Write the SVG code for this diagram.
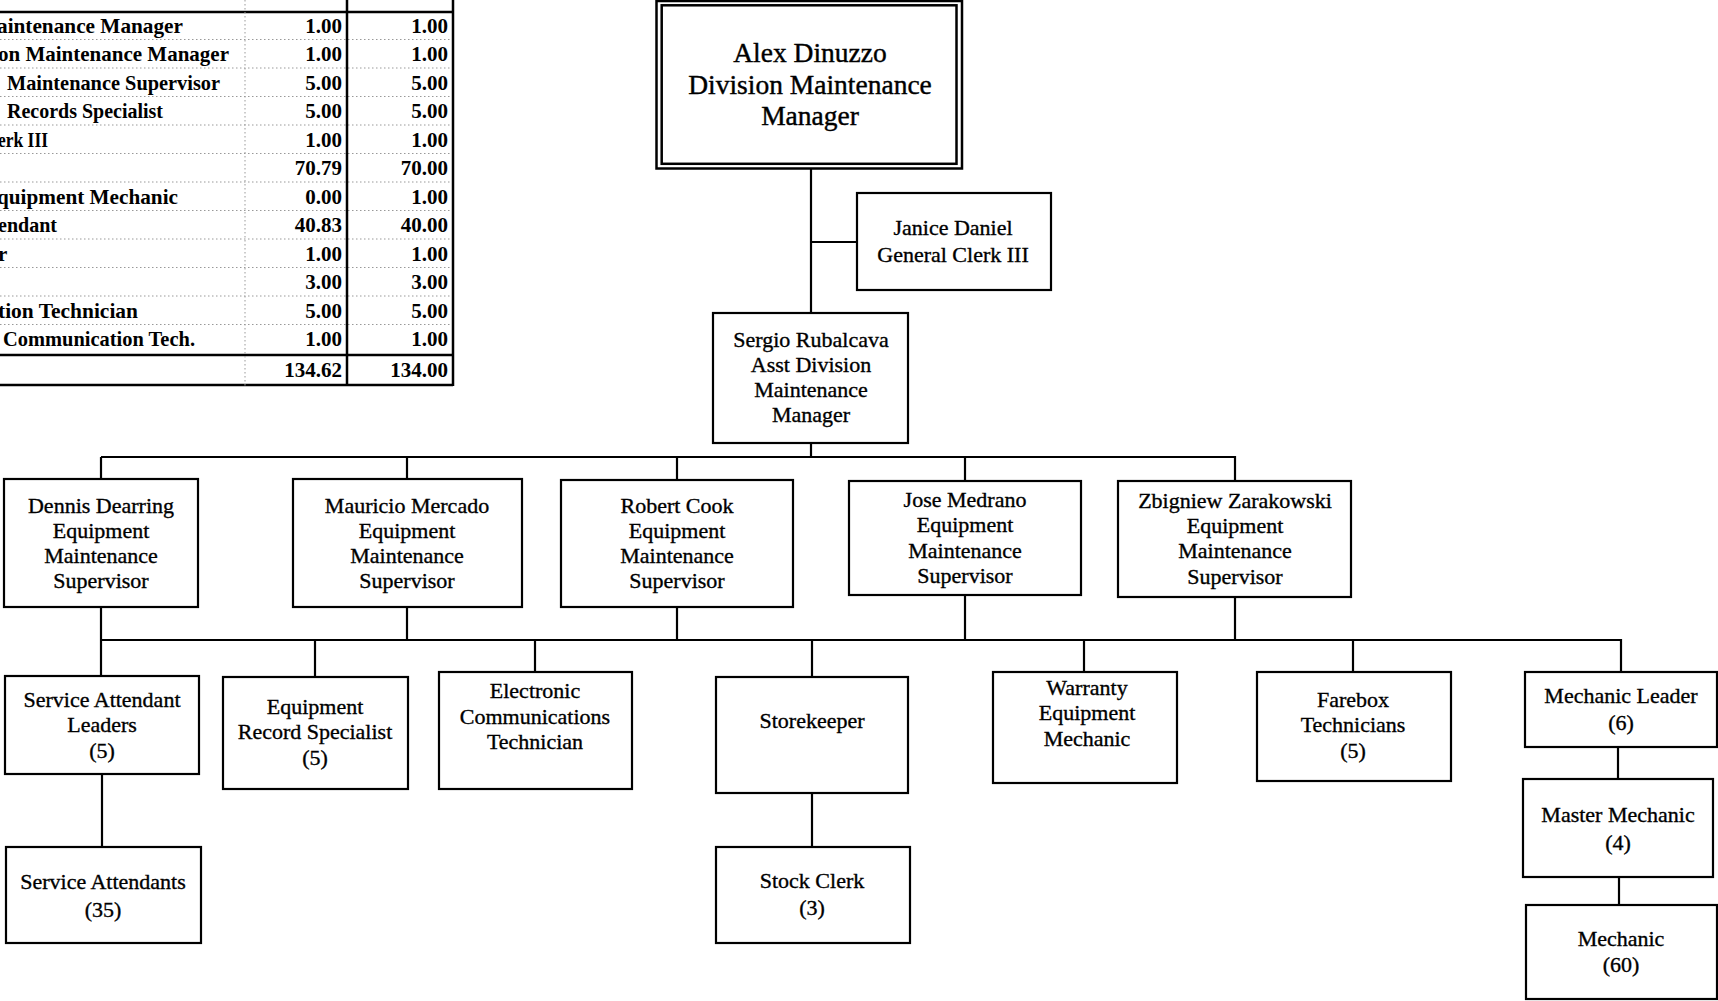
<svg xmlns="http://www.w3.org/2000/svg" width="1718" height="1001" viewBox="0 0 1718 1001">
<style>
  .bg { fill: #ffffff; }
  .box { fill: #ffffff; stroke: #000; stroke-width: 2.2; }
  .dbl { fill: none; stroke: #000; stroke-width: 2.5; }
  .ln { fill: none; stroke: #000; stroke-width: 2.2; }
  .t { font-family: "Liberation Serif", "DejaVu Serif", serif; font-size: 22px; fill: #000; stroke: #000; stroke-width: 0.35; text-anchor: middle; }
  .tb { font-family: "Liberation Serif", "DejaVu Serif", serif; font-size: 27.5px; fill: #000; stroke: #000; stroke-width: 0.4; text-anchor: middle; }
  .tab { font-family: "Liberation Serif", "DejaVu Serif", serif; font-size: 21px; font-weight: bold; fill: #000; }
  .num { text-anchor: end; }
  .tk { fill: none; stroke: #000; stroke-width: 2.5; }
  .dot { fill: none; stroke: #999; stroke-width: 1; stroke-dasharray: 1.5 2.5; }
</style>
<rect class="bg" x="0" y="0" width="1718" height="1001"/>

<g id="fte-table">
  <line class="tk" x1="0" y1="12" x2="453" y2="12"/>
  <line class="dot" x1="0" y1="39.5" x2="453" y2="39.5"/>
  <line class="dot" x1="0" y1="68" x2="453" y2="68"/>
  <line class="dot" x1="0" y1="96.5" x2="453" y2="96.5"/>
  <line class="dot" x1="0" y1="125" x2="453" y2="125"/>
  <line class="dot" x1="0" y1="153.5" x2="453" y2="153.5"/>
  <line class="dot" x1="0" y1="182" x2="453" y2="182"/>
  <line class="dot" x1="0" y1="210.5" x2="453" y2="210.5"/>
  <line class="dot" x1="0" y1="239" x2="453" y2="239"/>
  <line class="dot" x1="0" y1="267.5" x2="453" y2="267.5"/>
  <line class="dot" x1="0" y1="296" x2="453" y2="296"/>
  <line class="dot" x1="0" y1="324.5" x2="453" y2="324.5"/>
  <line class="tk" x1="0" y1="355" x2="453" y2="355"/>
  <line class="tk" x1="0" y1="385" x2="453" y2="385"/>
  <line class="dot" x1="245" y1="0" x2="245" y2="386"/>
  <line class="tk" x1="347" y1="0" x2="347" y2="386"/>
  <line class="tk" x1="453" y1="0" x2="453" y2="386"/>

  <text class="tab" x="-3" y="32.5" textLength="186" lengthAdjust="spacingAndGlyphs">aintenance Manager</text>
  <text class="tab" x="-2" y="61" textLength="231" lengthAdjust="spacingAndGlyphs">on Maintenance Manager</text>
  <text class="tab" x="7" y="89.5" textLength="213" lengthAdjust="spacingAndGlyphs">Maintenance Supervisor</text>
  <text class="tab" x="7" y="118" textLength="156" lengthAdjust="spacingAndGlyphs">Records Specialist</text>
  <text class="tab" x="-2" y="146.5" textLength="50" lengthAdjust="spacingAndGlyphs">erk III</text>
  <text class="tab" x="-3" y="203.5" textLength="181" lengthAdjust="spacingAndGlyphs">quipment Mechanic</text>
  <text class="tab" x="-2" y="232" textLength="59" lengthAdjust="spacingAndGlyphs">endant</text>
  <text class="tab" x="-2" y="260.5">r</text>
  <text class="tab" x="-2" y="317.5" textLength="140" lengthAdjust="spacingAndGlyphs">tion Technician</text>
  <text class="tab" x="3" y="346" textLength="192" lengthAdjust="spacingAndGlyphs">Communication Tech.</text>

  <text class="tab num" x="342" y="32.5">1.00</text>
  <text class="tab num" x="342" y="61">1.00</text>
  <text class="tab num" x="342" y="89.5">5.00</text>
  <text class="tab num" x="342" y="118">5.00</text>
  <text class="tab num" x="342" y="146.5">1.00</text>
  <text class="tab num" x="342" y="175">70.79</text>
  <text class="tab num" x="342" y="203.5">0.00</text>
  <text class="tab num" x="342" y="232">40.83</text>
  <text class="tab num" x="342" y="260.5">1.00</text>
  <text class="tab num" x="342" y="289">3.00</text>
  <text class="tab num" x="342" y="317.5">5.00</text>
  <text class="tab num" x="342" y="346">1.00</text>
  <text class="tab num" x="342" y="377">134.62</text>

  <text class="tab num" x="448" y="32.5">1.00</text>
  <text class="tab num" x="448" y="61">1.00</text>
  <text class="tab num" x="448" y="89.5">5.00</text>
  <text class="tab num" x="448" y="118">5.00</text>
  <text class="tab num" x="448" y="146.5">1.00</text>
  <text class="tab num" x="448" y="175">70.00</text>
  <text class="tab num" x="448" y="203.5">1.00</text>
  <text class="tab num" x="448" y="232">40.00</text>
  <text class="tab num" x="448" y="260.5">1.00</text>
  <text class="tab num" x="448" y="289">3.00</text>
  <text class="tab num" x="448" y="317.5">5.00</text>
  <text class="tab num" x="448" y="346">1.00</text>
  <text class="tab num" x="448" y="377">134.00</text>
</g>

<g id="connectors">
  <line class="ln" x1="811" y1="168" x2="811" y2="313"/>
  <line class="ln" x1="811" y1="242" x2="857" y2="242"/>
  <line class="ln" x1="811" y1="443" x2="811" y2="457"/>
  <line class="ln" x1="101" y1="457" x2="1235" y2="457"/>
  <line class="ln" x1="101" y1="457" x2="101" y2="479"/>
  <line class="ln" x1="407" y1="457" x2="407" y2="479"/>
  <line class="ln" x1="677" y1="457" x2="677" y2="480"/>
  <line class="ln" x1="965" y1="457" x2="965" y2="481"/>
  <line class="ln" x1="1235" y1="456" x2="1235" y2="481"/>
  <line class="ln" x1="101" y1="607" x2="101" y2="640"/>
  <line class="ln" x1="407" y1="607" x2="407" y2="640"/>
  <line class="ln" x1="677" y1="607" x2="677" y2="640"/>
  <line class="ln" x1="965" y1="595" x2="965" y2="640"/>
  <line class="ln" x1="1235" y1="597" x2="1235" y2="640"/>
  <line class="ln" x1="101" y1="640" x2="1622" y2="640"/>
  <line class="ln" x1="101" y1="640" x2="101" y2="676"/>
  <line class="ln" x1="315" y1="640" x2="315" y2="677"/>
  <line class="ln" x1="535" y1="640" x2="535" y2="672"/>
  <line class="ln" x1="812" y1="640" x2="812" y2="677"/>
  <line class="ln" x1="1084" y1="640" x2="1084" y2="672"/>
  <line class="ln" x1="1353" y1="640" x2="1353" y2="672"/>
  <line class="ln" x1="1621" y1="639" x2="1621" y2="672"/>
  <line class="ln" x1="102" y1="774" x2="102" y2="847"/>
  <line class="ln" x1="812" y1="793" x2="812" y2="847"/>
  <line class="ln" x1="1618" y1="747" x2="1618" y2="779"/>
  <line class="ln" x1="1619" y1="877" x2="1619" y2="905"/>
</g>

<g id="node-dinuzzo">
  <rect class="dbl" x="656.5" y="1" width="305.5" height="167.5"/>
  <rect class="dbl" x="661.7" y="5.3" width="294.8" height="158.5"/>
  <text class="tb" x="810" y="62">Alex Dinuzzo</text>
  <text class="tb" x="810" y="93.5">Division Maintenance</text>
  <text class="tb" x="810" y="124.5">Manager</text>
</g>

<g id="node-daniel">
  <rect class="box" x="857" y="193" width="194" height="97"/>
  <text class="t" x="953" y="235">Janice Daniel</text>
  <text class="t" x="953" y="262">General Clerk III</text>
</g>

<g id="node-rubalcava">
  <rect class="box" x="713" y="313" width="195" height="130"/>
  <text class="t" x="811" y="347">Sergio Rubalcava</text>
  <text class="t" x="811" y="372">Asst Division</text>
  <text class="t" x="811" y="397">Maintenance</text>
  <text class="t" x="811" y="422">Manager</text>
</g>

<g id="node-dearring">
  <rect class="box" x="4" y="479" width="194" height="128"/>
  <text class="t" x="101" y="513">Dennis Dearring</text>
  <text class="t" x="101" y="537.5">Equipment</text>
  <text class="t" x="101" y="563">Maintenance</text>
  <text class="t" x="101" y="588">Supervisor</text>
</g>

<g id="node-mercado">
  <rect class="box" x="293" y="479" width="229" height="128"/>
  <text class="t" x="407" y="513">Mauricio Mercado</text>
  <text class="t" x="407" y="537.5">Equipment</text>
  <text class="t" x="407" y="563">Maintenance</text>
  <text class="t" x="407" y="588">Supervisor</text>
</g>

<g id="node-cook">
  <rect class="box" x="561" y="480" width="232" height="127"/>
  <text class="t" x="677" y="513">Robert Cook</text>
  <text class="t" x="677" y="537.5">Equipment</text>
  <text class="t" x="677" y="563">Maintenance</text>
  <text class="t" x="677" y="588">Supervisor</text>
</g>

<g id="node-medrano">
  <rect class="box" x="849" y="481" width="232" height="114"/>
  <text class="t" x="965" y="507">Jose Medrano</text>
  <text class="t" x="965" y="532">Equipment</text>
  <text class="t" x="965" y="557.5">Maintenance</text>
  <text class="t" x="965" y="583">Supervisor</text>
</g>

<g id="node-zarakowski">
  <rect class="box" x="1118" y="481" width="233" height="116"/>
  <text class="t" x="1235" y="508">Zbigniew Zarakowski</text>
  <text class="t" x="1235" y="532.5">Equipment</text>
  <text class="t" x="1235" y="558">Maintenance</text>
  <text class="t" x="1235" y="584">Supervisor</text>
</g>

<g id="node-sa-leaders">
  <rect class="box" x="5" y="676" width="194" height="98"/>
  <text class="t" x="102" y="707">Service Attendant</text>
  <text class="t" x="102" y="732">Leaders</text>
  <text class="t" x="102" y="758">(5)</text>
</g>

<g id="node-ers">
  <rect class="box" x="223" y="677" width="185" height="112"/>
  <text class="t" x="315" y="714">Equipment</text>
  <text class="t" x="315" y="739">Record Specialist</text>
  <text class="t" x="315" y="765">(5)</text>
</g>

<g id="node-ect">
  <rect class="box" x="439" y="672" width="193" height="117"/>
  <text class="t" x="535" y="698">Electronic</text>
  <text class="t" x="535" y="724">Communications</text>
  <text class="t" x="535" y="749">Technician</text>
</g>

<g id="node-storekeeper">
  <rect class="box" x="716" y="677" width="192" height="116"/>
  <text class="t" x="812" y="728">Storekeeper</text>
</g>

<g id="node-warranty">
  <rect class="box" x="993" y="672" width="184" height="111"/>
  <text class="t" x="1087" y="695">Warranty</text>
  <text class="t" x="1087" y="720">Equipment</text>
  <text class="t" x="1087" y="746">Mechanic</text>
</g>

<g id="node-farebox">
  <rect class="box" x="1257" y="672" width="194" height="109"/>
  <text class="t" x="1353" y="707">Farebox</text>
  <text class="t" x="1353" y="732">Technicians</text>
  <text class="t" x="1353" y="758">(5)</text>
</g>

<g id="node-mech-leader">
  <rect class="box" x="1525" y="672" width="192" height="75"/>
  <text class="t" x="1621" y="703">Mechanic Leader</text>
  <text class="t" x="1621" y="730">(6)</text>
</g>

<g id="node-master-mech">
  <rect class="box" x="1523" y="779" width="190" height="98"/>
  <text class="t" x="1618" y="822">Master Mechanic</text>
  <text class="t" x="1618" y="850">(4)</text>
</g>

<g id="node-mechanic">
  <rect class="box" x="1526" y="905" width="191" height="94"/>
  <text class="t" x="1621" y="946">Mechanic</text>
  <text class="t" x="1621" y="972">(60)</text>
</g>

<g id="node-sa">
  <rect class="box" x="6" y="847" width="195" height="96"/>
  <text class="t" x="103" y="889">Service Attendants</text>
  <text class="t" x="103" y="917">(35)</text>
</g>

<g id="node-stock-clerk">
  <rect class="box" x="716" y="847" width="194" height="96"/>
  <text class="t" x="812" y="888">Stock Clerk</text>
  <text class="t" x="812" y="915">(3)</text>
</g>
</svg>
